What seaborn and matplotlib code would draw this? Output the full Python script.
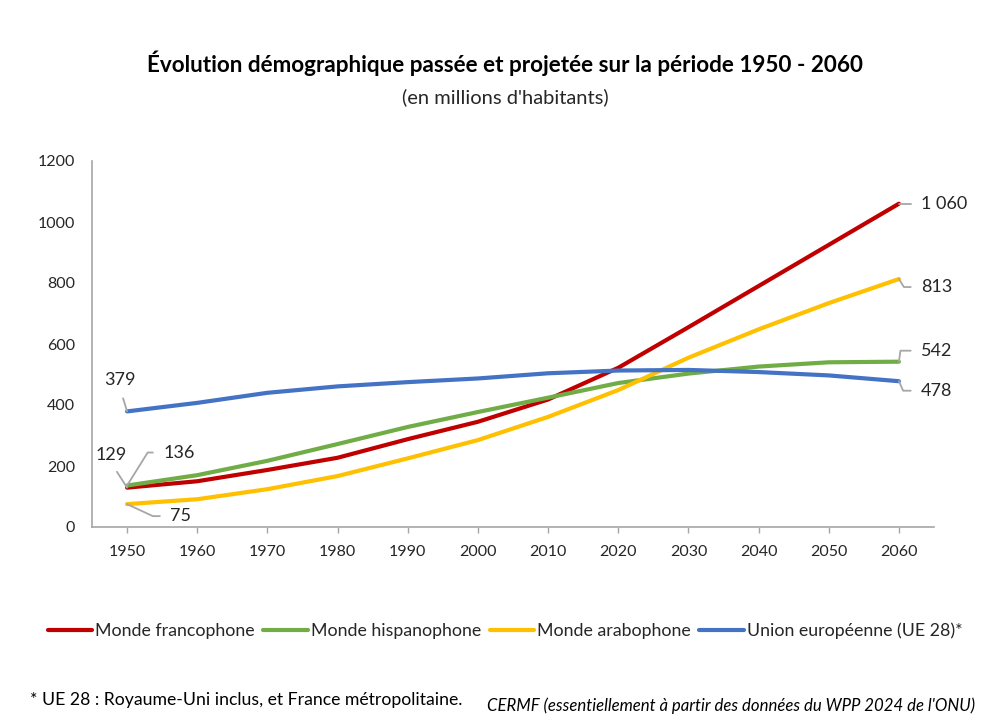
import matplotlib
matplotlib.use("Agg")
import matplotlib.pyplot as plt
import seaborn as sns
import pandas as pd
from matplotlib.lines import Line2D

# ---------------- data ----------------
years = [1950, 1960, 1970, 1980, 1990, 2000, 2010, 2020, 2030, 2040, 2050, 2060]
series_names = ["Monde francophone", "Monde hispanophone", "Monde arabophone",
                "Union européenne (UE 28)*"]
francophone = [129, 150, 187, 227, 288, 345, 418, 522, 655, 790, 925, 1060]
hispanophone = [136, 170, 217, 272, 328, 377, 424, 472, 503, 526, 540, 542]
arabophone = [75, 91, 124, 167, 225, 285, 361, 449, 555, 648, 734, 813]
ue28 = [379, 407, 440, 461, 475, 487, 504, 513, 515, 508, 497, 478]
y_ticks = [0, 200, 400, 600, 800, 1000, 1200]

title = "Évolution démographique passée et projetée sur la période 1950 - 2060"
subtitle = "(en millions d'habitants)"
footnote = "* UE 28 : Royaume-Uni inclus, et France métropolitaine."
source = "CERMF (essentiellement à partir des données du WPP 2024 de l'ONU)"

colors = ["#C00000", "#70AD47", "#FFC000", "#4472C4"]

values = [francophone, hispanophone, arabophone, ue28]
df = pd.DataFrame({
    "year": years * 4,
    "value": [v for s in values for v in s],
    "serie": [n for n in series_names for _ in years],
})

# ---------------- figure ----------------
sns.set_theme(style="white")
plt.rcParams["font.family"] = ["Lato", "DejaVu Sans"]

fig = plt.figure(figsize=(10, 7.21), dpi=100)
ax = fig.add_axes([0.092, 1 - 527 / 721, 0.934 - 0.092, (527 - 161) / 721])

sns.lineplot(data=df, x="year", y="value", hue="serie", palette=colors,
             hue_order=series_names, linewidth=3, ax=ax, legend=False)

ax.set_xlim(1945, 2065)
ax.set_ylim(0, 1200)
ax.set_xticks(years)
ax.set_yticks(y_ticks)
ax.set_xlabel("")
ax.set_ylabel("")
for s in ["top", "right"]:
    ax.spines[s].set_visible(False)
for s in ["left", "bottom"]:
    ax.spines[s].set_color("#A6A6A6")
    ax.spines[s].set_linewidth(1.2)
ax.tick_params(axis="x", which="major", direction="out", length=4, width=1,
               color="#A6A6A6", labelsize=11.5, labelcolor="#262626", pad=9, bottom=True)
ax.tick_params(axis="y", length=0, labelsize=11.5, labelcolor="#262626", pad=12)
ax.grid(False)


def fmt(v):
    return f"{v:,}".replace(",", " ")


label_style = dict(fontsize=13, color="#262626", textcoords="offset pixels")
leader = dict(arrowstyle="-", color="#A6A6A6", lw=1.3, shrinkB=0)

# left side labels (first values)
i0 = 0
ax.annotate(fmt(ue28[i0]), xy=(years[i0], ue28[i0]), xytext=(-7, 31),
            ha="center", va="center", **label_style,
            arrowprops=dict(**leader, shrinkA=5, relpos=(0.5, 0)))
ax.annotate(fmt(francophone[i0]), xy=(years[i0], francophone[i0]), xytext=(-16, 33),
            ha="center", va="center", **label_style,
            arrowprops=dict(**leader, shrinkA=5, relpos=(0.5, 0)))
ax.annotate(fmt(hispanophone[i0]), xy=(years[i0], hispanophone[i0]), xytext=(36, 33),
            ha="left", va="center", **label_style,
            arrowprops=dict(**leader, shrinkA=5, relpos=(0, 0.5),
                            connectionstyle="angle,angleA=0,angleB=58,rad=0"))
ax.annotate(fmt(arabophone[i0]), xy=(years[i0], arabophone[i0]), xytext=(43, -12),
            ha="left", va="center", **label_style,
            arrowprops=dict(**leader, shrinkA=5, relpos=(0, 0.5),
                            connectionstyle="angle,angleA=0,angleB=-25,rad=0"))

# right side labels (last values)
i1 = len(years) - 1
right = [(francophone, 0, 35), (arabophone, -8, -58), (hispanophone, 11, 82), (ue28, -9.5, -66)]
for serie, dy, ang in right:
    ax.annotate(fmt(serie[i1]), xy=(years[i1], serie[i1]), xytext=(22, dy),
                ha="left", va="center", **label_style,
                arrowprops=dict(**leader, shrinkA=5, relpos=(0, 0.5),
                                connectionstyle=f"angle,angleA=0,angleB={ang},rad=0"))

# titles
fig.text(0.505, 1 - 63 / 721, title, ha="center", va="center", fontsize=16.2,
         fontweight="bold", color="#000000")
fig.text(0.505, 1 - 97 / 721, subtitle, ha="center", va="center", fontsize=14.5,
         color="#262626")

# legend
handles = [Line2D([0], [0], color=c, lw=3) for c in colors]
fig.legend(handles, series_names, loc="center", ncol=4,
           bbox_to_anchor=(0.505, 1 - 631 / 721), frameon=False, fontsize=12.8,
           handlelength=2.5, handletextpad=0.15, columnspacing=0.5,
           labelcolor="#262626")

# footnotes
fig.text(0.03, 1 - 700 / 721, footnote, ha="left", va="center", fontsize=12.7,
         color="#000000")
fig.text(0.975, 1 - 706 / 721, source, ha="right", va="center", fontsize=12.1,
         style="italic", color="#000000")

fig.savefig("out.png", dpi=100)
